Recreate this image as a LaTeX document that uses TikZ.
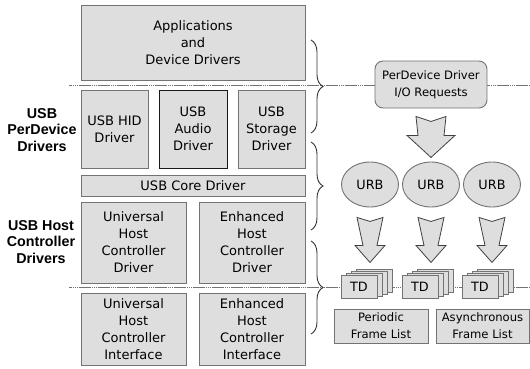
\documentclass[tikz,border=0pt]{standalone}
\usepackage{fontspec}
\setmainfont{DejaVu Sans}
\newfontfamily\labelfont{Liberation Sans}
\usetikzlibrary{decorations.pathreplacing,calc,shapes.geometric}

\tikzset{
  layer/.style={draw=black!55, fill=black!13, line width=0.9pt, inner sep=0pt,
    align=center, font=\fontsize{13}{17}\selectfont},
  sidelabel/.style={align=center, font=\labelfont\bfseries\fontsize{14.3}{16.5}\selectfont},
  request/.style={layer, rounded corners=8pt, font=\fontsize{11.6}{17}\selectfont},
  urb/.style={layer, ellipse, minimum width=57pt, minimum height=45pt,
    font=\fontsize{12.8}{15}\selectfont},
  tdcard/.style={layer, minimum width=36pt, minimum height=23pt,
    font=\fontsize{12.8}{15}\selectfont},
  framelist/.style={layer, minimum height=34pt, font=\fontsize{11.6}{17}\selectfont},
  busline/.style={draw=black!55, line width=1.4pt, dash pattern=on 1.5pt off 0.4pt},
  bracket/.style={draw=black!80, line width=0.9pt,
    decorate, decoration={brace, amplitude=12pt}},
  arrowfill/.style={draw=black!75, fill=black!13, line width=0.8pt, line join=miter},
  % downward block arrow with a notched top:
  % top half width / notch depth / tail half width / head start / head half width / tip
  pics/blockdown/.style args={#1/#2/#3/#4/#5/#6}{code={
    \path[arrowfill] (-#1,0) -- (0,#2) -- (#1,0) -- (#3,#4) -- (#5,#4) -- (0,#6)
      -- (-#5,#4) -- (-#3,#4) -- cycle;
  }},
  % a stack of transfer descriptors, front card named by the pic
  pics/tdstack/.style={code={
    \foreach \k in {3,2,1} {
      \node[tdcard] at (5*\k, -2*\k) {};
    }
    \node[tdcard] (-front) at (0,0) {TD};
  }}
}

\begin{document}
\begin{tikzpicture}[x=1pt, y=-1pt]
\useasboundingbox (0,0) rectangle (530,369);

% dotted separator lines
\coordinate (topw) at (69,85.5);
\coordinate (tope) at (530,85.5);
\coordinate (botw) at (69,287.5);
\coordinate (bote) at (530,287.5);
\draw[busline] (topw) -- (tope);
\draw[busline] (botw) -- (bote);

% software layers
\node[layer, minimum width=224pt, minimum height=75pt] (apps) at (193,42.5)
  {Applications\\and\\Device Drivers};
\node[layer, minimum width=67pt, minimum height=78pt] (hid) at (114.5,129)
  {USB HID\\Driver};
\node[layer, draw=black!90, minimum width=68pt, minimum height=78pt] (audio) at (193,129)
  {USB\\Audio\\Driver};
\node[layer, minimum width=67pt, minimum height=78pt] (storage) at (271.5,129)
  {USB\\Storage\\Driver};
\node[layer, minimum width=224pt, minimum height=21pt] (core) at (193,185.5)
  {USB Core Driver};
\node[layer, minimum width=105pt, minimum height=81pt] (uhcd) at (133.5,242.5)
  {Universal\\Host\\Controller\\Driver};
\node[layer, minimum width=106pt, minimum height=81pt] (ehcd) at (252,242.5)
  {Enhanced\\Host\\Controller\\Driver};
\node[layer, minimum width=105pt, minimum height=72pt] (uhci) at (133.5,329)
  {Universal\\Host\\Controller\\Interface};
\node[layer, minimum width=106pt, minimum height=72pt] (ehci) at (252,329)
  {Enhanced\\Host\\Controller\\Interface};

% group labels
\node[sidelabel] (perdevlbl) at (42,130) {USB\\PerDevice\\Drivers};
\node[sidelabel] (hcdlbl) at (41,242) {USB Host\\Controller\\Drivers};

% braces
\coordinate (b1a) at (311,40);  \coordinate (b1b) at (311,133);
\coordinate (b2a) at (311,142); \coordinate (b2b) at (311,230);
\coordinate (b3a) at (311,241); \coordinate (b3b) at (311,334);
\draw[bracket] (b1a) -- (b1b);
\draw[bracket] (b2a) -- (b2b);
\draw[bracket] (b3a) -- (b3b);

% request flow
\node[request, minimum width=112pt, minimum height=47pt] (req) at (431,84.5)
  {PerDevice Driver\\I/O Requests};
\pic at ($(req.south)+(0,8)$) {blockdown={15/5/13/19/24/41}};

\node[urb] (urb1) at (370,184.5) {URB};
\node[urb] (urb2) at (431,184.5) {URB};
\node[urb] (urb3) at (492,184.5) {URB};

\pic at ($(urb1.south)+(0,10)$) {blockdown={13/4/7/28/15/45}};
\pic at ($(urb2.south)+(0,10)$) {blockdown={13/4/7/28/15/45}};
\pic at ($(urb3.south)+(0,10)$) {blockdown={13/4/7/28/15/45}};

\pic (tdA) at (359,286.5) {tdstack};
\pic (tdB) at (420,286.5) {tdstack};
\pic (tdC) at (480,286.5) {tdstack};

\node[framelist, minimum width=94pt] (periodic) at (381,326)
  {Periodic\\Frame List};
\node[framelist, minimum width=93pt] (async) at (482.5,326)
  {Asynchronous\\Frame List};
\end{tikzpicture}
\end{document}
